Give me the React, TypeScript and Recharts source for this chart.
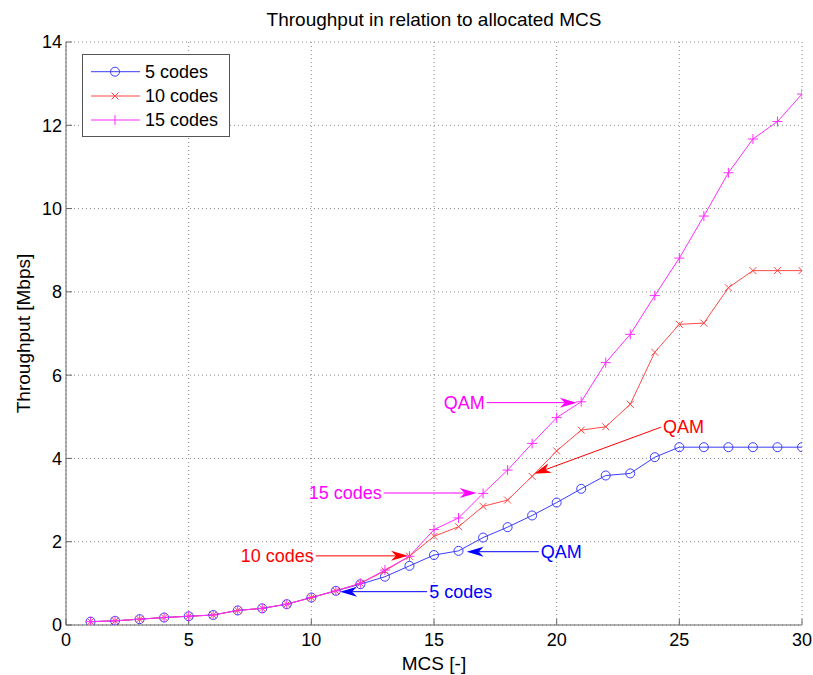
import React from 'react';
import {
  LineChart,
  Line,
  XAxis,
  YAxis,
  CartesianGrid,
  Legend,
  ReferenceLine,
  Label
} from 'recharts';

const mcs = [1, 2, 3, 4, 5, 6, 7, 8, 9, 10, 11, 12, 13, 14, 15, 16, 17, 18, 19, 20, 21, 22, 23, 24, 25, 26, 27, 28, 29, 30];
const codes5 = [0.08, 0.10, 0.14, 0.18, 0.21, 0.24, 0.35, 0.40, 0.50, 0.66, 0.82, 0.98, 1.16, 1.42, 1.68, 1.78, 2.10, 2.35, 2.63, 2.94, 3.27, 3.59, 3.64, 4.03, 4.27, 4.27, 4.27, 4.27, 4.27, 4.27];
const codes10 = [0.08, 0.10, 0.14, 0.18, 0.21, 0.24, 0.35, 0.40, 0.50, 0.66, 0.82, 1.00, 1.30, 1.65, 2.13, 2.36, 2.85, 3.00, 3.57, 4.18, 4.68, 4.76, 5.30, 6.55, 7.22, 7.25, 8.10, 8.51, 8.51, 8.51];
const codes15 = [0.08, 0.10, 0.14, 0.18, 0.21, 0.24, 0.35, 0.40, 0.50, 0.66, 0.82, 1.00, 1.32, 1.65, 2.29, 2.57, 3.16, 3.72, 4.36, 4.98, 5.36, 6.30, 6.98, 7.91, 8.81, 9.82, 10.86, 11.67, 12.09, 12.75];

const xTicks = [0, 5, 10, 15, 20, 25, 30];
const yTicks = [0, 2, 4, 6, 8, 10, 12, 14];

const seriesNames = ['5 codes', '10 codes', '15 codes'];
const seriesColors = ['#3c3cff', '#ff4848', '#ff2cff'];

// annotation texts with arrows (data coordinates)
const annotations = [
  { text: 'QAM', color: '#ff00ff', from: [17.15, 5.34], to: [20.82, 5.34], side: 'end' },
  { text: '15 codes', color: '#ff00ff', from: [12.95, 3.17], to: [16.74, 3.17], side: 'end' },
  { text: '10 codes', color: '#ff0000', from: [10.18, 1.66], to: [13.94, 1.66], side: 'end' },
  { text: 'QAM', color: '#ff0000', from: [24.25, 4.75], to: [19.08, 3.63], side: 'start' },
  { text: 'QAM', color: '#0000ff', from: [19.27, 1.76], to: [16.33, 1.76], side: 'start' },
  { text: '5 codes', color: '#0000ff', from: [14.72, 0.80], to: [11.17, 0.80], side: 'start' }
];

const data = mcs.map((m, i) => ({ mcs: m, c5: codes5[i], c10: codes10[i], c15: codes15[i] }));

const FONT = '"Liberation Sans", Arial, Helvetica, sans-serif';
const AXIS = '#666666';

const circleDot = (color: string) => (p: any) => (
  <circle key={p.index} cx={p.cx} cy={p.cy} r={4.5} fill="none" stroke={color} strokeWidth={1} />
);

const crossDot = (color: string) => (p: any) => (
  <path key={p.index} d={`M${p.cx - 3.5},${p.cy - 3.5}L${p.cx + 3.5},${p.cy + 3.5}M${p.cx - 3.5},${p.cy + 3.5}L${p.cx + 3.5},${p.cy - 3.5}`} stroke={color} strokeWidth={1} fill="none" />
);

const plusDot = (color: string) => (p: any) => (
  <path key={p.index} d={`M${p.cx - 5},${p.cy}L${p.cx + 5},${p.cy}M${p.cx},${p.cy - 5}L${p.cx},${p.cy + 5}`} stroke={color} strokeWidth={1} fill="none" />
);

const arrowShape = (text: string, color: string, side: string) => (p: any) => {
  const { x1, y1, x2, y2 } = p;
  const dx = x2 - x1;
  const dy = y2 - y1;
  const len = Math.hypot(dx, dy) || 1;
  const ux = dx / len;
  const uy = dy / len;
  const nx = -uy;
  const ny = ux;
  const L = 17, W = 5, N = 12;
  const bx = x2 - ux * L;
  const by = y2 - uy * L;
  const pts = [
    [x2, y2],
    [bx + nx * W, by + ny * W],
    [x2 - ux * N, y2 - uy * N],
    [bx - nx * W, by - ny * W]
  ].map((q) => q.join(',')).join(' ');
  return (
    <g>
      <line x1={x1} y1={y1} x2={x2 - ux * N} y2={y2 - uy * N} stroke={color} strokeWidth={1} />
      <polygon points={pts} fill={color} stroke="none" />
      <text
        x={side === 'end' ? x1 - 2 : x1 + 2}
        y={y1}
        textAnchor={side}
        dominantBaseline="central"
        fill={color}
        fontSize={18}
        fontFamily={FONT}
      >
        {text}
      </text>
    </g>
  );
};

const LegendBox = () => {
  const rows = [17.7, 42, 66];
  return (
    <svg width={149} height={84} style={{ display: 'block' }}>
      <rect x={0.5} y={0.5} width={147} height={82} fill="#fff" stroke="#555" strokeWidth={1} />
      {seriesNames.map((name, i) => {
        const y = rows[i];
        const c = seriesColors[i];
        return (
          <g key={name}>
            <line x1={9} y1={y} x2={58} y2={y} stroke={c} strokeWidth={1} />
            {i === 0 && <circle cx={33} cy={y} r={4.5} fill="none" stroke={c} />}
            {i === 1 && <path d={`M29.5,${y - 3.5}L36.5,${y + 3.5}M29.5,${y + 3.5}L36.5,${y - 3.5}`} stroke={c} />}
            {i === 2 && <path d={`M33,${y - 5}L33,${y + 5}`} stroke={c} />}
            <text x={63} y={y} dominantBaseline="central" fontSize={18} fontFamily={FONT} fill="#000">
              {name}
            </text>
          </g>
        );
      })}
    </svg>
  );
};

const App = () => {
  return (
    <div style={{ position: 'absolute', left: 0, top: 0, width: 813, height: 675, background: '#fff' }}>
      <LineChart
        width={813}
        height={675}
        data={data}
        margin={{ top: 42, right: 11, bottom: 0, left: 0 }}
        style={{ fontFamily: FONT }}
      >
        <CartesianGrid stroke="#8a8a8a" strokeDasharray="1 3" strokeWidth={1} />
        <XAxis
          dataKey="mcs"
          type="number"
          domain={[0, 30]}
          ticks={xTicks}
          height={50}
          stroke={AXIS}
          tickSize={-6}
          tickMargin={14}
          tick={{ fill: '#000', fontSize: 18, fontFamily: FONT }}
          allowDataOverflow
        >
          <Label
            content={(props: any) => {
              const vb = props.viewBox;
              return (
                <text x={vb.x + vb.width / 2} y={vb.y + 38} textAnchor="middle" dominantBaseline="central" fontSize={19} fontFamily={FONT} fill="#000">
                  MCS [-]
                </text>
              );
            }}
          />
        </XAxis>
        <XAxis
          xAxisId="top"
          dataKey="mcs"
          type="number"
          orientation="top"
          domain={[0, 30]}
          ticks={xTicks}
          height={0}
          stroke={AXIS}
          tickSize={-6}
          tick={false}
          allowDataOverflow
        />
        <YAxis
          type="number"
          domain={[0, 14]}
          ticks={yTicks}
          width={66}
          stroke={AXIS}
          tickSize={-6}
          tickMargin={10}
          tick={{ fill: '#000', fontSize: 18, fontFamily: FONT }}
          allowDataOverflow
        >
          <Label
            content={(props: any) => {
              const vb = props.viewBox;
              const cy = vb.y + vb.height / 2;
              return (
                <g>
                  <text x={23} y={cy} transform={`rotate(-90, 23, ${cy})`} textAnchor="middle" dominantBaseline="central" fontSize={19} fontFamily={FONT} fill="#000">
                    Throughput [Mbps]
                  </text>
                  <text x={434} y={19} textAnchor="middle" dominantBaseline="central" fontSize={19} fontFamily={FONT} fill="#000">
                    Throughput in relation to allocated MCS
                  </text>
                </g>
              );
            }}
          />
        </YAxis>
        <YAxis
          yAxisId="right"
          orientation="right"
          type="number"
          domain={[0, 14]}
          ticks={yTicks}
          width={0}
          stroke={AXIS}
          tickSize={-6}
          tick={false}
          allowDataOverflow
        />
        <Legend
          layout="horizontal"
          verticalAlign="middle"
          align="center"
          wrapperStyle={{ position: 'absolute', left: 82, top: 54, width: 149, height: 84 }}
          content={() => <LegendBox />}
        />
        <Line
          dataKey="c5"
          name={seriesNames[0]}
          stroke={seriesColors[0]}
          strokeWidth={1}
          dot={circleDot(seriesColors[0])}
          activeDot={false}
          isAnimationActive={false}
        />
        <Line
          dataKey="c10"
          name={seriesNames[1]}
          stroke={seriesColors[1]}
          strokeWidth={1}
          dot={crossDot(seriesColors[1])}
          activeDot={false}
          isAnimationActive={false}
        />
        <Line
          dataKey="c15"
          name={seriesNames[2]}
          stroke={seriesColors[2]}
          strokeWidth={1}
          dot={plusDot(seriesColors[2])}
          activeDot={false}
          isAnimationActive={false}
        />
        {annotations.map((a, i) => (
          <ReferenceLine
            key={i}
            segment={[{ x: a.from[0], y: a.from[1] }, { x: a.to[0], y: a.to[1] }]}
            stroke={a.color}
            ifOverflow="visible"
            shape={arrowShape(a.text, a.color, a.side)}
          />
        ))}
      </LineChart>
    </div>
  );
};

export default App;
